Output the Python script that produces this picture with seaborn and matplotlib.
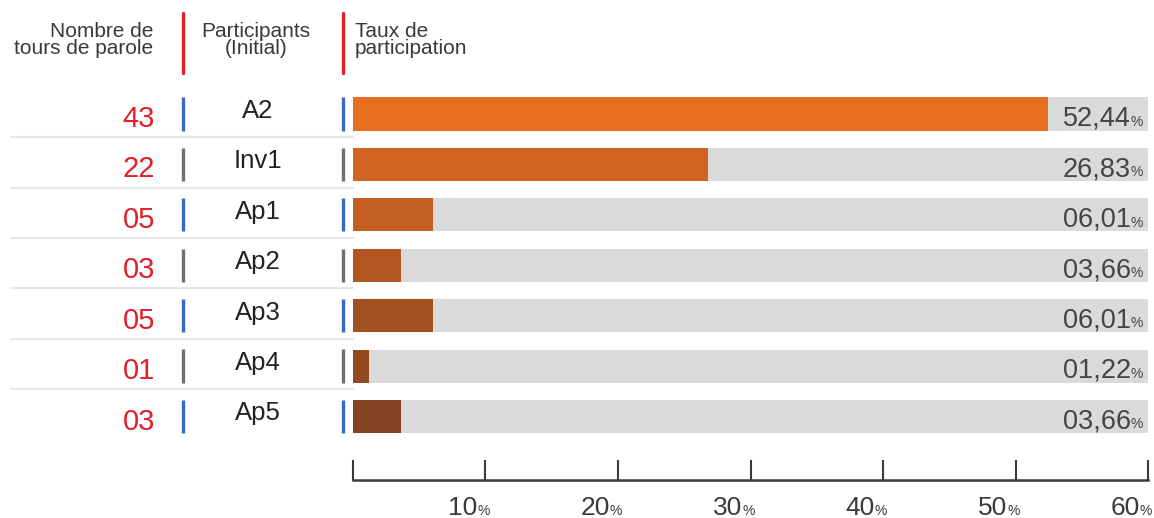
import numpy as np
import seaborn as sns
import matplotlib.pyplot as plt
import matplotlib.transforms as mtransforms

# data
participants = ["A2", "Inv1", "Ap1", "Ap2", "Ap3", "Ap4", "Ap5"]
tours = [43, 22, 5, 3, 5, 1, 3]
taux = [52.44, 26.83, 6.01, 3.66, 6.01, 1.22, 3.66]
xticks = [0, 10, 20, 30, 40, 50, 60]

bar_colors = ["#E86E22", "#D26421", "#C55E21", "#B3561F", "#A1511F", "#934A1E", "#834320"]
marker_colors = ["#3A66C4", "#707070"]
gray_bg = "#D9DAD9"
red = "#E3202A"
txt = "#3a3a3a"

W, H = 1154, 518
sns.set_style("white")
plt.rcParams['font.family'] = ['Liberation Sans', 'DejaVu Sans']

fig = plt.figure(figsize=(W / 100, H / 100), dpi=100)
ax = fig.add_axes([353 / W, 1 - 480 / H, (1148 - 353) / W, (480 - 88.8) / H])

sns.barplot(x=[60] * len(participants), y=participants, orient="h", color=gray_bg,
            width=0.655, ax=ax, saturation=1, linewidth=0)
sns.barplot(x=taux, y=participants, hue=participants, palette=bar_colors, orient="h",
            width=0.655, ax=ax, legend=False, saturation=1, linewidth=0)

ax.set_xlim(0, 60)
ax.set_ylim(7.26, -0.5)
ax.set_yticks([])
ax.set_xticks(xticks)
ax.set_xlabel("")
ax.set_ylabel("")
for s in ["top", "right", "left"]:
    ax.spines[s].set_visible(False)
ax.spines["bottom"].set_color(txt)
ax.spines["bottom"].set_linewidth(1.8)
ax.tick_params(axis="x", bottom=True, direction="in", length=14.4, width=1.5, color=txt,
               labelbottom=False)

# tick labels: big number + small percent sign
for t in xticks[1:]:
    ax.annotate(str(t), xy=(t, 0), xycoords=("data", "axes fraction"), xytext=(-6, -25),
                textcoords="offset points", ha="right", va="baseline", fontsize=19,
                color=txt)
    ax.annotate("%", xy=(t, 0), xycoords=("data", "axes fraction"), xytext=(-6, -25),
                textcoords="offset points", ha="left", va="baseline", fontsize=10,
                color=txt)

# value labels inside the gray bars
for i, v in enumerate(taux):
    lab = f"{v:05.2f}".replace(".", ",")
    ax.annotate(lab, xy=(60, i), xytext=(-12.5, -8.5), textcoords="offset points",
                ha="right", va="baseline", fontsize=19.5, color="#444444")
    ax.annotate("%", xy=(60, i), xytext=(-4, -8.5), textcoords="offset points",
                ha="right", va="baseline", fontsize=10, color="#444444")

# left table part: x in figure pixels, y in data rows
tr = mtransforms.blended_transform_factory(fig.transFigure, ax.transData)
for i, (p, n) in enumerate(zip(participants, tours)):
    ax.text(155 / W, i + 0.1, f"{n:02d}", transform=tr, ha="right", va="center",
            fontsize=21, color=red, clip_on=False)
    ax.text(258 / W, i - 0.06, p, transform=tr, ha="center", va="center",
            fontsize=18.5, color="#222222", clip_on=False)
    c = marker_colors[i % 2]
    for xp in (183, 343):
        ax.plot([xp / W, xp / W], [i - 0.33, i + 0.33], transform=tr, color=c,
                lw=2.4, clip_on=False, solid_capstyle="butt")
    if i < len(participants) - 1:
        ax.plot([11 / W, 353 / W], [i + 0.46, i + 0.46], transform=tr, color="#E6E6E6",
                lw=1.5, clip_on=False)

# header
fig.text(153 / W, 1 - 22 / H, "Nombre de\ntours de parole", ha="right", va="top",
         fontsize=15, color=txt, linespacing=0.9)
fig.text(256 / W, 1 - 22 / H, "Participants\n(Initial)", ha="center", va="top",
         fontsize=15, color=txt, linespacing=0.9)
fig.text(355 / W, 1 - 22 / H, "Taux de\nparticipation", ha="left", va="top",
         fontsize=15, color=txt, linespacing=0.9)
for xp in (183, 343):
    fig.add_artist(plt.Line2D([xp / W, xp / W], [1 - 13 / H, 1 - 73 / H], color=red, lw=2.4))

fig.savefig("out.png", dpi=100)
